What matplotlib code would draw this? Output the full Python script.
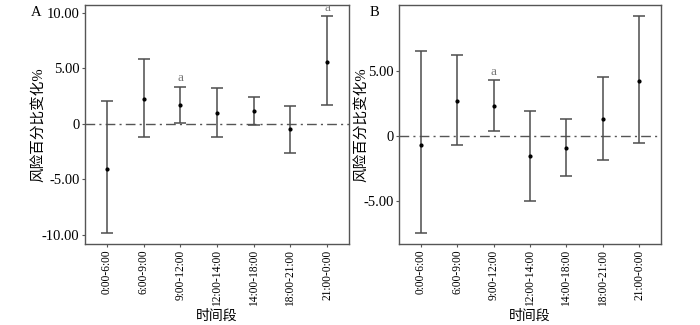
import numpy as np
import matplotlib
matplotlib.use('Agg')
import matplotlib.pyplot as plt

plt.rcParams['font.family'] = ['Liberation Serif', 'Noto Sans CJK SC']
plt.rcParams['axes.unicode_minus'] = False

periods = ['0:00-6:00', '6:00-9:00', '9:00-12:00', '12:00-14:00',
           '14:00-18:00', '18:00-21:00', '21:00-0:00']

# A: 风险百分比变化 (估计值与95%置信区间)
a_est = [-4.10, 2.28, 1.74, 1.02, 1.14, -0.51, 5.62]
a_low = [-9.87, -1.15, 0.12, -1.15, -0.12, -2.59, 1.68]
a_high = [2.04, 5.83, 3.37, 3.25, 2.43, 1.59, 9.75]
a_sig = [False, False, True, False, False, False, True]
a_yticks = [-10, -5, 0, 5, 10]

# B
b_est = [-0.69, 2.70, 2.30, -1.56, -0.90, 1.30, 4.23]
b_low = [-7.45, -0.69, 0.36, -4.95, -3.04, -1.84, -0.54]
b_high = [6.55, 6.20, 4.26, 1.94, 1.27, 4.49, 9.21]
b_sig = [False, False, True, False, False, False, False]
b_yticks = [-5, 0, 5]

line_col = '#4d4d4d'


def y_fmt(v):
    if v == 0:
        return '0'
    return f'{v:.2f}'


def draw(ax, est, low, high, sig, yticks, ylab_x):
    x = np.arange(1, len(periods) + 1)
    est = np.array(est)
    low = np.array(low)
    high = np.array(high)
    ax.axhline(0, color='#555555', lw=1.0, dashes=(7, 3, 1.5, 3), zorder=1)
    ax.errorbar(x, est, yerr=[est - low, high - est], fmt='o', ms=2.0,
                color='black', ecolor=line_col, elinewidth=1.1,
                capsize=4.5, capthick=1.1, zorder=2)
    for xi, hi, s in zip(x, high, sig):
        if s:
            ax.annotate('a', (xi, hi), xytext=(0, 1.5), textcoords='offset points',
                        ha='center', va='bottom', fontsize=9.5, color='#777777')
    rng = high.max() - low.min()
    ax.set_ylim(low.min() - 0.05 * rng, high.max() + 0.05 * rng)
    ax.set_xlim(0.4, len(periods) + 0.6)
    ax.set_xticks(x)
    ax.set_xticklabels(periods, rotation=90, fontsize=8.3)
    ax.set_yticks(yticks)
    ax.set_yticklabels([y_fmt(v) for v in yticks], fontsize=10.5)
    ax.tick_params(direction='out', length=2.5, width=0.8, color='#555555', pad=1.5)
    for sp in ax.spines.values():
        sp.set_color('#555555')
        sp.set_linewidth(1.0)
    ax.set_xlabel('时间段', fontsize=10, va='center')
    ax.xaxis.set_label_coords(0.5, -0.302)
    ax.set_ylabel('风险百分比变化%', fontsize=10.5)
    ax.yaxis.set_label_coords(ylab_x, 0.5)


fig = plt.figure(figsize=(7, 3.25), dpi=100)
ax1 = fig.add_axes([0.1214, 0.2492, 0.3772, 0.7354])
ax2 = fig.add_axes([0.5704, 0.2492, 0.3739, 0.7354])

draw(ax1, a_est, a_low, a_high, a_sig, a_yticks, -0.152)
draw(ax2, b_est, b_low, b_high, b_sig, b_yticks, -0.12)

fig.text(31 / 700, 1 - 12 / 325, 'A', fontsize=10.5, ha='left', va='center')
fig.text(370 / 700, 1 - 12 / 325, 'B', fontsize=10.5, ha='left', va='center')

fig.savefig('out.png', dpi=100)
